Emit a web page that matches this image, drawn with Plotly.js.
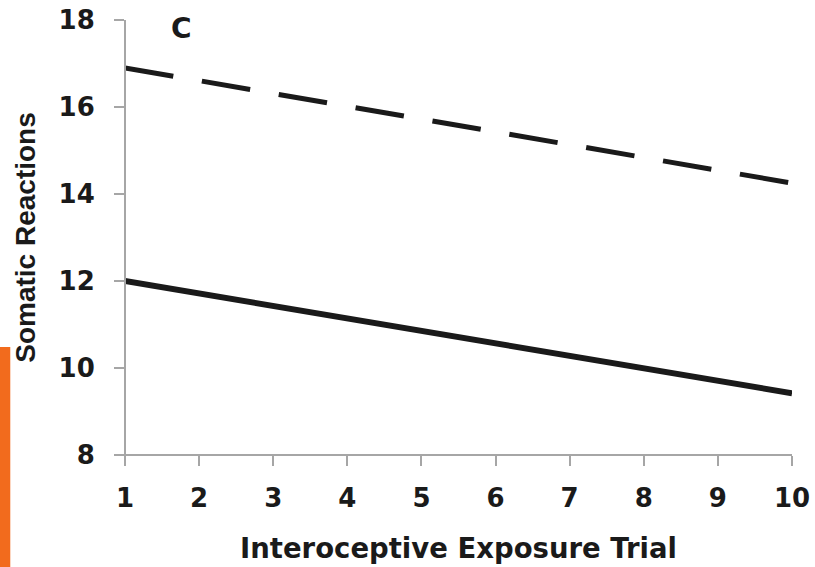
<!DOCTYPE html>
<html>
<head>
<meta charset="utf-8">
<script src="https://cdn.plot.ly/plotly-3.0.1.min.js"></script>
<style>html,body{margin:0;padding:0;background:#fff;}#chart{width:815px;height:567px;}</style>
</head>
<body>
<div id="chart"></div>
<script>
// Data
var trials = [1, 10];
var highGroup = [16.9, 14.25];   // dashed line
var lowGroup = [12.0, 9.42];     // solid line
var xTicks = [1, 2, 3, 4, 5, 6, 7, 8, 9, 10];
var yTicks = [8, 10, 12, 14, 16, 18];
var panelLabel = "C";
var xTitle = "Interoceptive Exposure Trial";
var yTitle = "Somatic Reactions";

var axisGray = "#A6A6A6";
var wideFont = "DejaVu Sans, Verdana, sans-serif";
var font = "Liberation Sans, Arial, sans-serif";

var traces = [
  {x: trials, y: highGroup, mode: "lines", line: {color: "#1a1a1a", width: 5, dash: "49px,29px"}, hoverinfo: "none"},
  {x: trials, y: lowGroup, mode: "lines", line: {color: "#1a1a1a", width: 6}, hoverinfo: "none"}
];

var layout = {
  width: 815, height: 567,
  margin: {l: 125, r: 23, t: 20, b: 112},
  paper_bgcolor: "#fff", plot_bgcolor: "#fff",
  showlegend: false,
  xaxis: {
    range: [1, 10], tickvals: xTicks, ticktext: xTicks.map(String),
    showgrid: false, zeroline: false, showline: false,
    ticks: "outside", ticklen: 10, tickwidth: 2, tickcolor: axisGray,
    tickfont: {family: wideFont, size: 26, color: "#1a1a1a", weight: "bold"},
    ticklabelstandoff: 10,
    title: {text: xTitle, font: {family: wideFont, size: 27.5, color: "#1a1a1a", weight: "bold"}, standoff: 26}
  },
  yaxis: {
    range: [8, 18], tickvals: yTicks, ticktext: yTicks.map(String),
    showgrid: false, zeroline: false, showline: false,
    ticks: "outside", ticklen: 10, tickwidth: 2, tickcolor: axisGray,
    tickfont: {family: wideFont, size: 26, color: "#1a1a1a", weight: "bold"},
    ticklabelstandoff: 14,
    title: {text: yTitle, font: {family: font, size: 28, color: "#1a1a1a", weight: "bold"}, standoff: 14}
  },
  shapes: [
    {type: "line", xref: "paper", yref: "paper", x0: -0.015, x1: 1, y0: 0, y1: 0, line: {color: axisGray, width: 2}},
    {type: "line", xref: "paper", yref: "paper", x0: 0, x1: 0, y0: -0.023, y1: 1, line: {color: axisGray, width: 2}},
    {type: "rect", xref: "paper", yref: "paper", x0: -0.1874, x1: -0.172, y0: -0.26, y1: 0.248, fillcolor: "#F26B1D", line: {width: 0}, layer: "above"}
  ],
  annotations: [
    {text: panelLabel, xref: "paper", yref: "paper", x: 0.084, y: 0.98, xanchor: "center", yanchor: "middle", showarrow: false,
     font: {family: wideFont, size: 28, color: "#1a1a1a", weight: "bold"}}
  ]
};

Plotly.newPlot("chart", traces, layout, {staticPlot: true, displayModeBar: false});
</script>
</body>
</html>
